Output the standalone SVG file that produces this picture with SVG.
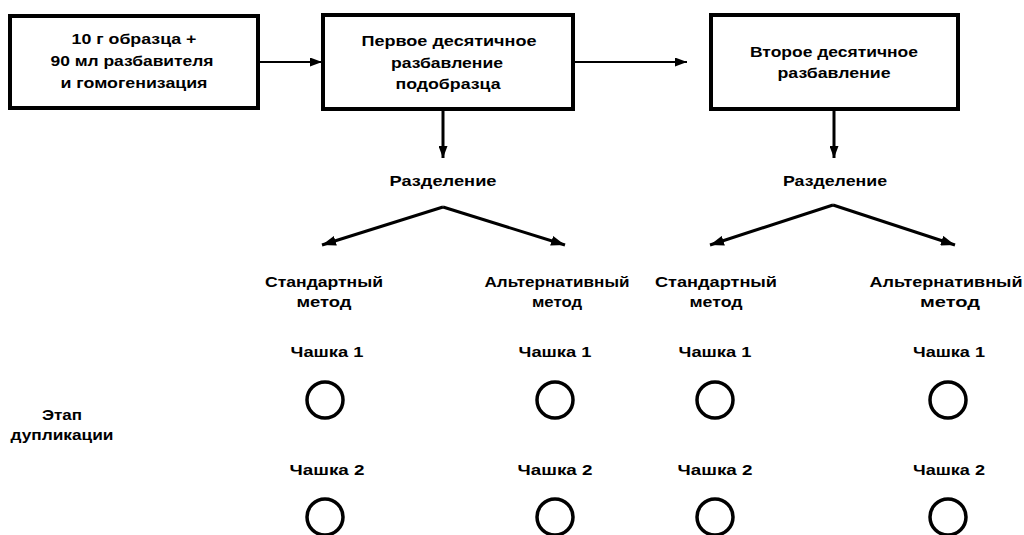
<svg xmlns="http://www.w3.org/2000/svg" width="1024" height="535" viewBox="0 0 1024 535">
<style>
.t{font-family:"Liberation Sans",Arial,sans-serif;font-weight:bold;font-size:15px;fill:#000;text-anchor:middle}
.s{font-size:14px}
.box{fill:#fff;stroke:#000;stroke-width:4}
.ln{stroke:#000;stroke-width:2;fill:none}
.sp{stroke:#000;stroke-width:3;fill:none}
.cup{fill:none;stroke:#000;stroke-width:3.5}
</style>
<defs>
<marker id="ah" markerUnits="userSpaceOnUse" markerWidth="12" markerHeight="9" refX="12" refY="4.5" orient="auto">
<path d="M0,0 L12,4.5 L0,9 z" fill="#000"/>
</marker>
<marker id="ah2" markerUnits="userSpaceOnUse" markerWidth="14" markerHeight="10" refX="14" refY="5" orient="auto">
<path d="M0,0 L14,5 L0,10 z" fill="#000"/>
</marker>
</defs>
<rect width="1024" height="535" fill="#fff"/>
<g id="connectors">
<line class="ln" x1="258" y1="62" x2="322" y2="62" marker-end="url(#ah)"/>
<line class="ln" x1="573" y1="62" x2="687" y2="62" marker-end="url(#ah)"/>
<line class="sp" x1="443" y1="109" x2="443" y2="158" marker-end="url(#ah)"/>
<line class="sp" x1="834" y1="109" x2="834" y2="158" marker-end="url(#ah)"/>
<line class="sp" x1="443" y1="207" x2="322" y2="245" marker-end="url(#ah2)"/>
<line class="sp" x1="443" y1="207" x2="565" y2="245" marker-end="url(#ah2)"/>
<line class="sp" x1="833" y1="205" x2="710" y2="245" marker-end="url(#ah2)"/>
<line class="sp" x1="833" y1="205" x2="955" y2="245" marker-end="url(#ah2)"/>
</g>
<g id="box1">
<rect class="box" x="10" y="16" width="248" height="92"/>
<text class="t" x="134" y="44" textLength="125" lengthAdjust="spacingAndGlyphs">10 г образца +</text>
<text class="t" x="132" y="66" textLength="163" lengthAdjust="spacingAndGlyphs">90 мл разбавителя</text>
<text class="t" x="134" y="88" textLength="147" lengthAdjust="spacingAndGlyphs">и гомогенизация</text>
</g>
<g id="box2">
<rect class="box" x="323" y="15" width="250" height="94"/>
<text class="t" x="449" y="46" textLength="175" lengthAdjust="spacingAndGlyphs">Первое десятичное</text>
<text class="t" x="447" y="68" textLength="112" lengthAdjust="spacingAndGlyphs">разбавление</text>
<text class="t" x="448" y="89" textLength="105" lengthAdjust="spacingAndGlyphs">подобразца</text>
</g>
<g id="box3">
<rect class="box" x="711" y="15" width="247" height="94"/>
<text class="t" x="834" y="57" textLength="168" lengthAdjust="spacingAndGlyphs">Второе десятичное</text>
<text class="t" x="834" y="78" textLength="113" lengthAdjust="spacingAndGlyphs">разбавление</text>
</g>
<g id="split1">
<text class="t" x="443" y="186" textLength="107" lengthAdjust="spacingAndGlyphs">Разделение</text>
</g>
<g id="split2">
<text class="t" x="835" y="186" textLength="104" lengthAdjust="spacingAndGlyphs">Разделение</text>
</g>
<g id="method1">
<text class="t" x="324" y="287" textLength="118" lengthAdjust="spacingAndGlyphs">Стандартный</text>
<text class="t" x="324" y="307" textLength="55" lengthAdjust="spacingAndGlyphs">метод</text>
</g>
<g id="method2">
<text class="t" x="557" y="287" textLength="145" lengthAdjust="spacingAndGlyphs">Альтернативный</text>
<text class="t" x="557" y="307" textLength="50" lengthAdjust="spacingAndGlyphs">метод</text>
</g>
<g id="method3">
<text class="t" x="716" y="287" textLength="122" lengthAdjust="spacingAndGlyphs">Стандартный</text>
<text class="t" x="716" y="307" textLength="53" lengthAdjust="spacingAndGlyphs">метод</text>
</g>
<g id="method4">
<text class="t" x="946" y="287" textLength="153" lengthAdjust="spacingAndGlyphs">Альтернативный</text>
<text class="t" x="950" y="307" textLength="60" lengthAdjust="spacingAndGlyphs">метод</text>
</g>
<g id="stage">
<text class="t s" x="62" y="420" textLength="40" lengthAdjust="spacingAndGlyphs">Этап</text>
<text class="t s" x="62" y="440" textLength="103" lengthAdjust="spacingAndGlyphs">дупликации</text>
</g>
<g id="cups1">
<text class="t s" x="327" y="357" textLength="73" lengthAdjust="spacingAndGlyphs">Чашка 1</text>
<circle class="cup" cx="325" cy="400" r="18"/>
<text class="t s" x="327" y="475" textLength="75" lengthAdjust="spacingAndGlyphs">Чашка 2</text>
<circle class="cup" cx="325" cy="517" r="18"/>
</g>
<g id="cups2">
<text class="t s" x="555" y="357" textLength="73" lengthAdjust="spacingAndGlyphs">Чашка 1</text>
<circle class="cup" cx="555" cy="400" r="18"/>
<text class="t s" x="555" y="475" textLength="75" lengthAdjust="spacingAndGlyphs">Чашка 2</text>
<circle class="cup" cx="555" cy="517" r="18"/>
</g>
<g id="cups3">
<text class="t s" x="715" y="357" textLength="73" lengthAdjust="spacingAndGlyphs">Чашка 1</text>
<circle class="cup" cx="715" cy="400" r="18"/>
<text class="t s" x="715" y="475" textLength="75" lengthAdjust="spacingAndGlyphs">Чашка 2</text>
<circle class="cup" cx="715" cy="517" r="18"/>
</g>
<g id="cups4">
<text class="t s" x="949" y="357" textLength="72" lengthAdjust="spacingAndGlyphs">Чашка 1</text>
<circle class="cup" cx="948" cy="400" r="18"/>
<text class="t s" x="949" y="475" textLength="72" lengthAdjust="spacingAndGlyphs">Чашка 2</text>
<circle class="cup" cx="948" cy="517" r="18"/>
</g>
</svg>
